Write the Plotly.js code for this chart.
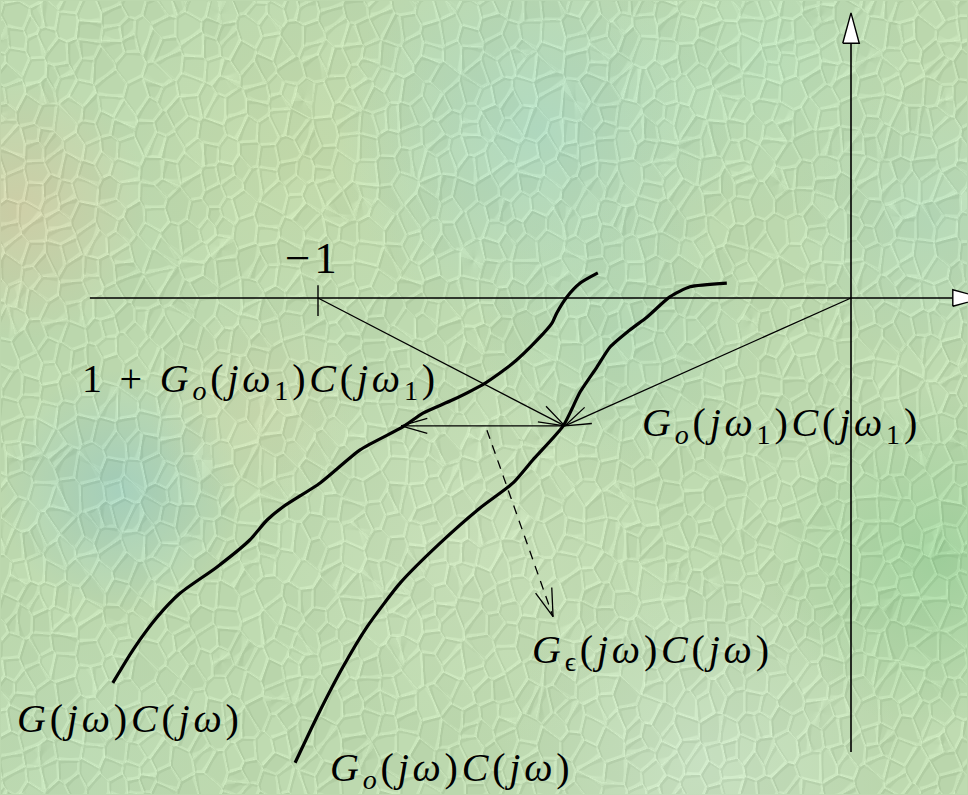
<!DOCTYPE html>
<html>
<head>
<meta charset="utf-8">
<script src="https://cdn.plot.ly/plotly-3.0.1.min.js"></script>
<style>
  html, body { margin: 0; padding: 0; background: #bcd8ae; }
  #chart { width: 968px; height: 795px; }
  .annotation-text { letter-spacing: 3.8px; }
</style>
</head>
<body>
<div id="chart"></div>
<script>
// ---------------- DATA (complex-plane units: -1 is the critical point) ----------------
// Nyquist curve G(jw)C(jw) (true plant)
const curveG_re = [-1.385, -1.347, -1.302, -1.259, -1.190, -1.128, -1.096, -1.066, -0.996, -0.921, -0.841, -0.803, -0.747, -0.687, -0.634, -0.589, -0.561, -0.552, -0.533, -0.508, -0.475];
const curveG_im = [-0.722, -0.660, -0.599, -0.554, -0.505, -0.454, -0.417, -0.392, -0.347, -0.285, -0.242, -0.216, -0.191, -0.160, -0.122, -0.079, -0.047, -0.028, 0.002, 0.028, 0.047];
// Nyquist curve Go(jw)C(jw) (nominal model)
const curveGo_re = [-1.043, -1.002, -0.953, -0.908, -0.846, -0.771, -0.696, -0.634, -0.597, -0.540, -0.508, -0.477, -0.452, -0.415, -0.383, -0.340, -0.302, -0.233];
const curveGo_im = [-0.872, -0.786, -0.692, -0.617, -0.535, -0.460, -0.394, -0.347, -0.304, -0.240, -0.176, -0.130, -0.092, -0.060, -0.036, 0.002, 0.021, 0.028];
// Special points
const criticalPoint = [-1, 0];
const originPoint = [0, 0];
const pointGo1 = [-0.537, -0.240];   // Go(jw1)C(jw1)
const pointG1 = [-0.844, -0.240];    // G(jw1)C(jw1)
const errorArrowStart = [-0.683, -0.248];
const errorArrowEnd = [-0.559, -0.598];
// Axes extents
const realAxis = [-1.428, 0.191, 0.248];     // start, arrow base, arrow tip
const imagAxis = [-0.852, 0.478, 0.535];     // start, arrow base, arrow tip
const tickHalf = [-0.034, 0.024];
// Labels
const labelTexts = [
  "\u22121",
  "1 + <i>G</i><sub><i>o</i></sub>(<i>j\u03c9</i><sub>1</sub>)<i>C</i>(<i>j\u03c9</i><sub>1</sub>)",
  "<i>G</i><sub><i>o</i></sub>(<i>j\u03c9</i><sub>1</sub>)<i>C</i>(<i>j\u03c9</i><sub>1</sub>)",
  "<i>G</i>(<i>j\u03c9</i>)<i>C</i>(<i>j\u03c9</i>)",
  "<i>G</i><sub><i>o</i></sub>(<i>j\u03c9</i>)<i>C</i>(<i>j\u03c9</i>)",
  "<i>G</i><sub>\u03f5</sub>(<i>j\u03c9</i>)<i>C</i>(<i>j\u03c9</i>)"
];
const labelX = [-1.010, -1.447, -0.396, -1.569, -0.981, -0.602];
const labelY = [0.075, -0.156, -0.238, -0.788, -0.886, -0.664];
const labelAnchor = ["center", "left", "left", "left", "left", "left"];

// ---------------- BACKGROUND TEXTURE ----------------
function makeBackground(W, H) {
  const c = document.createElement('canvas');
  c.width = W; c.height = H;
  const ctx = c.getContext('2d');
  ctx.fillStyle = 'rgb(188,216,174)';
  ctx.fillRect(0, 0, W, H);
  const blobs = [
    [20, 210, 130, '215,198,160', 0.6],
    [300, 160, 170, '200,218,166', 0.5],
    [540, 130, 200, '165,214,200', 0.6],
    [760, 60, 160, '180,222,190', 0.5],
    [930, 220, 140, '172,214,190', 0.5],
    [120, 490, 120, '150,200,192', 0.65],
    [260, 410, 110, '210,214,170', 0.45],
    [470, 540, 210, '204,224,188', 0.55],
    [940, 560, 170, '146,204,148', 0.65],
    [700, 760, 200, '204,226,204', 0.55],
    [80, 760, 150, '186,218,182', 0.5],
    [620, 330, 140, '168,212,184', 0.45]
  ];
  for (const [x, y, r, col, a] of blobs) {
    const g = ctx.createRadialGradient(x, y, 0, x, y, r);
    g.addColorStop(0, 'rgba(' + col + ',' + a + ')');
    g.addColorStop(1, 'rgba(' + col + ',0)');
    ctx.fillStyle = g;
    ctx.fillRect(0, 0, W, H);
  }
  const img = ctx.getImageData(0, 0, W, H);
  const d = img.data;
  const cs = 20;
  const gw = Math.ceil(W / cs) + 2, gh = Math.ceil(H / cs) + 2;
  function hash(i, j, k) {
    let h = (i * 374761393 + j * 668265263 + k * 2147483647) | 0;
    h = (h ^ (h >>> 13)) * 1274126177 | 0;
    h = h ^ (h >>> 16);
    return ((h >>> 0) % 10000) / 10000;
  }
  const px = new Float32Array(gw * gh), py = new Float32Array(gw * gh), pv = new Float32Array(gw * gh);
  for (let j = 0; j < gh; j++) for (let i = 0; i < gw; i++) {
    const k = j * gw + i;
    px[k] = (i - 1 + hash(i, j, 1)) * cs;
    py[k] = (j - 1 + hash(i, j, 2)) * cs;
    pv[k] = hash(i, j, 3) - 0.5;
  }
  const E = new Float32Array(W * H), K = new Int32Array(W * H);
  for (let y = 0; y < H; y++) {
    const gj = Math.floor(y / cs) + 1;
    for (let x = 0; x < W; x++) {
      const gi = Math.floor(x / cs) + 1;
      let f1 = 1e9, f2 = 1e9, kb = 0;
      for (let dj = -1; dj <= 1; dj++) for (let di = -1; di <= 1; di++) {
        const ii = gi + di, jj = gj + dj;
        if (ii < 0 || jj < 0 || ii >= gw || jj >= gh) continue;
        const k = jj * gw + ii;
        const dx = (x - px[k]) * 1.15, dy = (y - py[k]) * 0.9;
        const dd = dx * dx + dy * dy;
        if (dd < f1) { f2 = f1; f1 = dd; kb = k; } else if (dd < f2) { f2 = dd; }
      }
      E[y * W + x] = Math.min(Math.sqrt(f2) - Math.sqrt(f1), 3.5);
      K[y * W + x] = kb;
    }
  }
  for (let y = 1; y < H - 1; y++) {
    for (let x = 1; x < W - 1; x++) {
      const i = y * W + x;
      const e = E[i];
      let add = pv[K[i]] * 7;
      add += Math.max(-10, Math.min(12, (E[i - W - 1] - E[i + W + 1]) * 6.5));
      if (e < 0.9) add += 8;
      const o = i * 4;
      d[o] = Math.max(0, Math.min(255, d[o] + add));
      d[o + 1] = Math.max(0, Math.min(255, d[o + 1] + add));
      d[o + 2] = Math.max(0, Math.min(255, d[o + 2] + add));
    }
  }
  ctx.putImageData(img, 0, 0);
  return c.toDataURL('image/png');
}

// ---------------- GEOMETRY HELPERS ----------------
function barbs(tip, from, len, angDeg) {
  const dx = from[0] - tip[0], dy = from[1] - tip[1];
  const n = Math.hypot(dx, dy);
  const ux = dx / n, uy = dy / n;
  const a = angDeg * Math.PI / 180;
  const r1 = [ux * Math.cos(a) - uy * Math.sin(a), ux * Math.sin(a) + uy * Math.cos(a)];
  const r2 = [ux * Math.cos(-a) - uy * Math.sin(-a), ux * Math.sin(-a) + uy * Math.cos(-a)];
  return {
    x: [tip[0] + r1[0] * len, tip[0], tip[0] + r2[0] * len],
    y: [tip[1] + r1[1] * len, tip[1], tip[1] + r2[1] * len]
  };
}
function lineTrace(xs, ys, width, dash) {
  return { type: 'scatter', mode: 'lines', x: xs, y: ys, hoverinfo: 'skip',
           line: { color: '#000', width: width, dash: dash || 'solid' }, showlegend: false };
}

const traces = [];
traces.push(lineTrace([realAxis[0], realAxis[1]], [0, 0], 1.6));
traces.push(lineTrace([0, 0], [imagAxis[0], imagAxis[1]], 1.6));
const hw = 0.0155;
traces.push({ type: 'scatter', mode: 'lines', x: [realAxis[1], realAxis[2], realAxis[1], realAxis[1]], y: [-hw, 0, hw, -hw],
  fill: 'toself', fillcolor: '#ffffff', line: { color: '#000', width: 1.4 }, hoverinfo: 'skip', showlegend: false });
traces.push({ type: 'scatter', mode: 'lines', x: [-hw, 0, hw, -hw], y: [imagAxis[1], imagAxis[2], imagAxis[1], imagAxis[1]],
  fill: 'toself', fillcolor: '#ffffff', line: { color: '#000', width: 1.4 }, hoverinfo: 'skip', showlegend: false });
traces.push(lineTrace([criticalPoint[0], criticalPoint[0]], tickHalf, 1.4));
const barbLen = 0.051;
traces.push(lineTrace([criticalPoint[0], pointGo1[0]], [criticalPoint[1], pointGo1[1]], 1.3));
let b = barbs(pointGo1, criticalPoint, barbLen, 19); traces.push(lineTrace(b.x, b.y, 1.3));
traces.push(lineTrace([originPoint[0], pointGo1[0]], [originPoint[1], pointGo1[1]], 1.3));
b = barbs(pointGo1, originPoint, barbLen, 19); traces.push(lineTrace(b.x, b.y, 1.3));
traces.push(lineTrace([pointGo1[0], pointG1[0]], [pointGo1[1], pointG1[1]], 1.3));
b = barbs(pointG1, pointGo1, barbLen, 16); traces.push(lineTrace(b.x, b.y, 1.3));
traces.push(lineTrace([errorArrowStart[0], errorArrowEnd[0]], [errorArrowStart[1], errorArrowEnd[1]], 1.3, '9px,7px'));
b = barbs(errorArrowEnd, errorArrowStart, 0.055, 17); traces.push(lineTrace(b.x, b.y, 1.3));
traces.push({ type: 'scatter', mode: 'lines', x: curveG_re, y: curveG_im, hoverinfo: 'skip', showlegend: false,
  line: { color: '#000', width: 3.2, shape: 'spline', smoothing: 0.6 } });
traces.push({ type: 'scatter', mode: 'lines', x: curveGo_re, y: curveGo_im, hoverinfo: 'skip', showlegend: false,
  line: { color: '#000', width: 3.2, shape: 'spline', smoothing: 0.6 } });

const annotations = labelTexts.map((t, i) => ({
  x: labelX[i], y: labelY[i], xref: 'x', yref: 'y', text: t, showarrow: false,
  xanchor: labelAnchor[i], yanchor: 'middle',
  font: { family: 'Liberation Serif, DejaVu Serif, serif', size: i === 0 ? 45 : 40, color: '#000' }
}));

const W = 968, H = 795, ox = 851, oy = 298, unit = 533;
const layout = {
  width: W, height: H,
  margin: { l: 0, r: 0, t: 0, b: 0, pad: 0 },
  paper_bgcolor: '#bcd8ae', plot_bgcolor: 'rgba(0,0,0,0)',
  xaxis: { range: [-ox / unit, (W - ox) / unit], visible: false, fixedrange: true },
  yaxis: { range: [-(H - oy) / unit, oy / unit], visible: false, fixedrange: true },
  showlegend: false,
  annotations: annotations,
  images: [{ source: makeBackground(W, H), xref: 'paper', yref: 'paper', x: 0, y: 1,
             sizex: 1, sizey: 1, sizing: 'stretch', xanchor: 'left', yanchor: 'top', layer: 'below' }]
};
Plotly.newPlot('chart', traces, layout, { staticPlot: true, displayModeBar: false });
</script>
</body>
</html>
